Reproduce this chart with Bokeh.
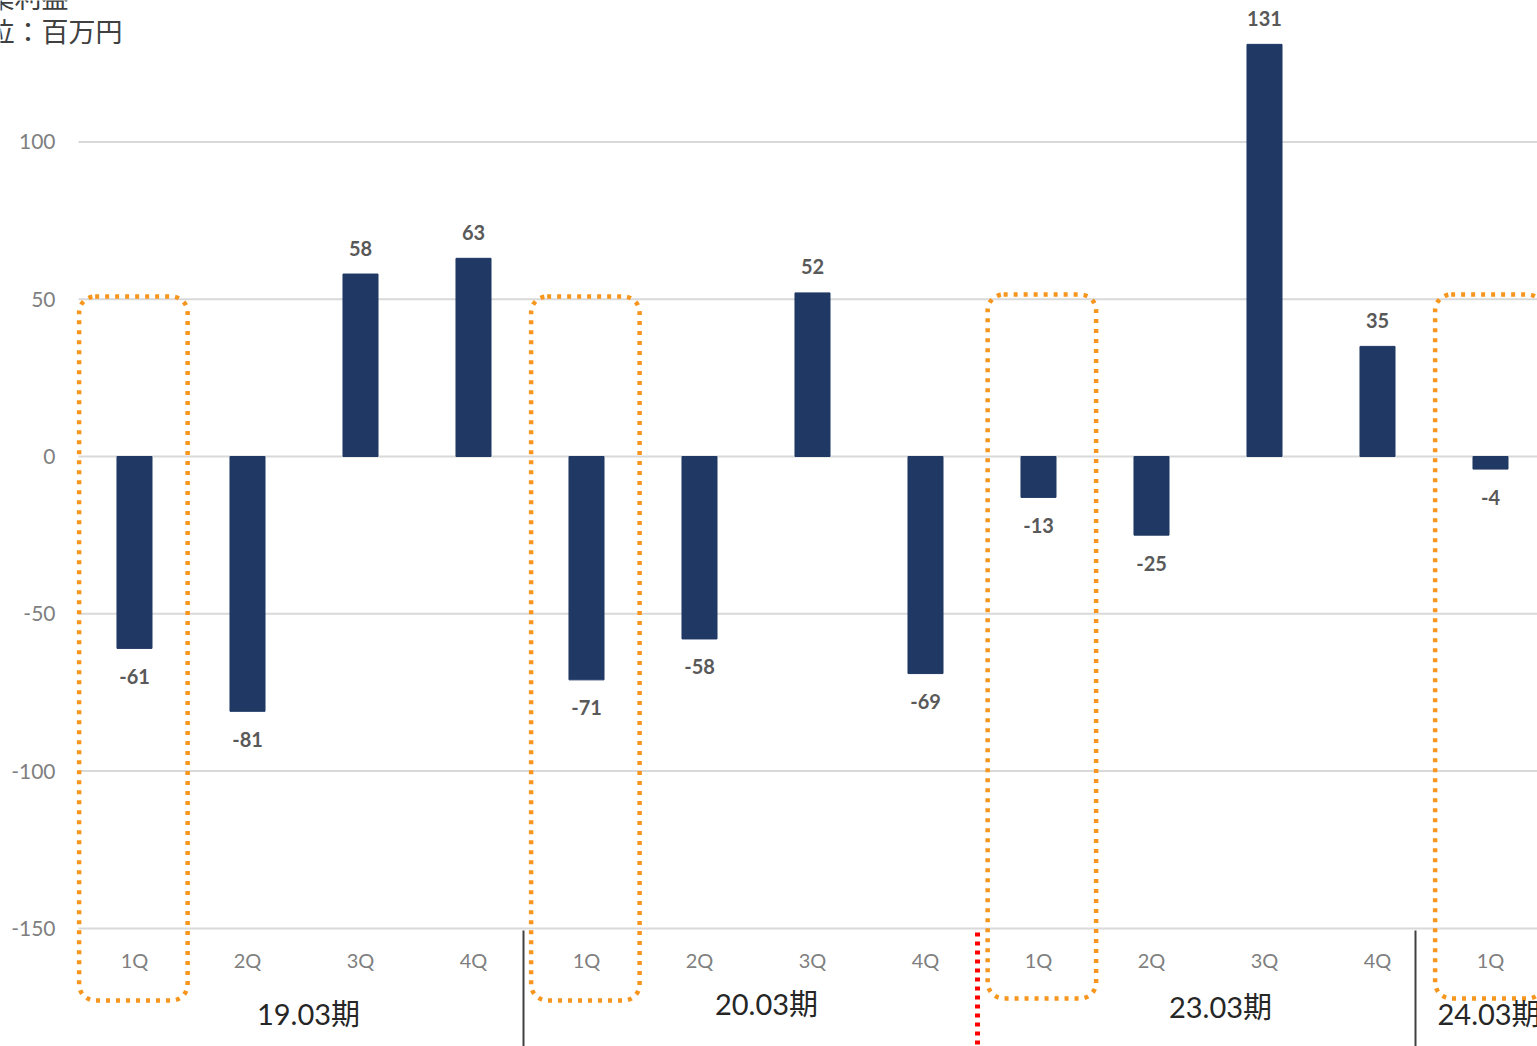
from bokeh.plotting import figure
from bokeh.models import ColumnDataSource, Range1d
from bokeh.core.properties import value
from bokeh.embed import file_html
from bokeh.resources import INLINE

# ---- data ----
quarters = ["1Q", "2Q", "3Q", "4Q", "1Q", "2Q", "3Q", "4Q", "1Q", "2Q", "3Q", "4Q", "1Q"]
profits = [-61, -81, 58, 63, -71, -58, 52, -69, -13, -25, 131, 35, -4]
periods = ["19.03期", "20.03期", "23.03期", "24.03期"]
y_ticks = [-150, -100, -50, 0, 50, 100]
title_lines = ["営業利益", "単位：百万円"]

# ---- layout constants (px -> data helpers) ----
W, H = 1537, 1046
GRID_LEFT = 78
PX0, PXSTEP = 134.0, 113.0      # centre of first category, category pitch
PY0, PYUNIT = 456.0, 3.146      # pixel of y=0, px per unit

def xd(px):
    return (px - PX0) / PXSTEP

def yd(py):
    return (PY0 - py) / PYUNIT

NUM = "Lato, 'Noto Sans CJK JP'"

p = figure(width=W, height=H, output_backend="svg", toolbar_location=None,
           x_range=Range1d(xd(0), xd(W)), y_range=Range1d(yd(H), yd(0)),
           min_border=0)
p.outline_line_color = None
p.background_fill_color = "white"
p.border_fill_color = "white"
p.axis.visible = False
p.grid.visible = False

# y grid + tick labels
p.segment(x0=[xd(GRID_LEFT)] * len(y_ticks), x1=[xd(W)] * len(y_ticks),
          y0=y_ticks, y1=y_ticks, line_color="#d9d9d9", line_width=2)
p.text(x=[xd(55)] * len(y_ticks), y=y_ticks, text=[str(t) for t in y_ticks],
       text_align="right", text_baseline="middle",
       text_font=value(NUM), text_font_size="21px", text_color="#7f7f7f")

n = len(profits)
xs = list(range(n))
src = ColumnDataSource(dict(
    x=xs, top=profits,
    lab=[str(v) for v in profits],
    off=[-26 if v > 0 else 28 for v in profits],
    q=quarters,
))

# orange dotted rounded boxes around each 1Q
first_q = [i for i, q in enumerate(quarters) if q == "1Q"]
box_shift = [0.0, 0.0, 0.04, 0.0]
p.quad(left=[i - 0.49 + s for i, s in zip(first_q, box_shift)],
       right=[i + 0.47 + s for i, s in zip(first_q, box_shift)],
       top=[yd(296), yd(296), yd(294), yd(294)],
       bottom=[yd(1000), yd(1000), yd(998), yd(998)],
       fill_color=None, line_color="#f7961e", line_width=4.5, line_dash="4 6",
       border_radius=16)

p.vbar(x="x", top="top", bottom=0, width=0.31, source=src,
       fill_color="#1f3864", line_color="#1f3864")

p.text(x="x", y="top", text="lab", y_offset="off", source=src,
       text_align="center", text_baseline="middle",
       text_font=value(NUM), text_font_style="bold", text_font_size="20px",
       text_color="#595959")

# category labels
p.text(x="x", y=yd(959), text="q", source=src,
       text_align="center", text_baseline="middle",
       text_font=value(NUM), text_font_size="20px", text_color="#7f7f7f")

# period labels
per_x = [xd(308), xd(766), xd(1220), xd(1437)]
per_y = [yd(1013), yd(1003), yd(1006), yd(1013)]
per_align = ["center", "center", "center", "left"]
p.text(x=per_x, y=per_y, text=periods, text_align=per_align, text_baseline="middle",
       text_font=value(NUM), text_font_size="29px", text_color="#262626")

# separators
for px in (523, 1415):
    p.segment(x0=[xd(px)], x1=[xd(px)], y0=[yd(930)], y1=[yd(H)],
              line_color="#404040", line_width=2)
p.segment(x0=[xd(977)], x1=[xd(977)], y0=[yd(932)], y1=[yd(H)],
          line_color="#ff0000", line_width=5, line_dash="4 5")

# title (partly cut off at the top-left, as in the reference)
p.text(x=[xd(-40), xd(-40)], y=[yd(-4), yd(30)], text=title_lines,
       text_align="left", text_baseline="middle",
       text_font=value("Noto Sans CJK JP"), text_font_size="27px", text_color="#404040")

open("out.html", "w").write(file_html(p, INLINE))
